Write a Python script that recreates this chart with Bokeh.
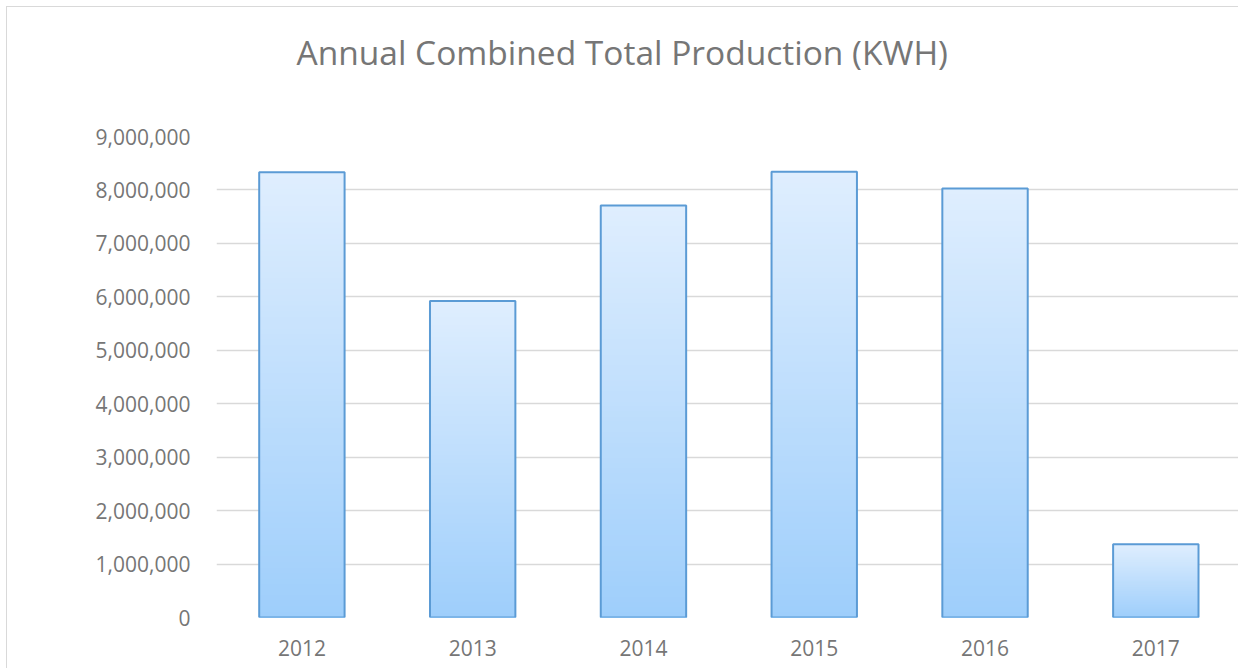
from bokeh.plotting import figure
from bokeh.models import Range1d, FixedTicker, NumeralTickFormatter, Title
from bokeh.embed import file_html
from bokeh.resources import INLINE

# ---- data ----
years = ["2012", "2013", "2014", "2015", "2016", "2017"]
production = [8330000, 5920000, 7710000, 8340000, 8025000, 1370000]
y_ticks = [0, 1000000, 2000000, 3000000, 4000000, 5000000, 6000000, 7000000, 8000000, 9000000]
title_text = "Annual Combined Total Production (KWH)"

# ---- styling ----
BAR_WIDTH = 0.5
TOP_RGB = (223, 238, 254)
BOT_RGB = (158, 206, 251)
N_SLICES = 80

xs = [i + 0.5 for i in range(len(years))]

p = figure(width=1232, height=662, output_backend="svg", toolbar_location=None,
           x_range=Range1d(0, 5.99), y_range=Range1d(0, 9000000),
           min_border_left=209, min_border_right=0, min_border_top=129, min_border_bottom=52)
p.styles = {"border-left": "1.5px solid #D9D9D9", "border-top": "1.5px solid #D9D9D9",
            "margin-left": "6px", "margin-top": "6px"}

p.title.text = title_text
p.title.align = "left"
p.title.offset = 80
p.title.standoff = 38
p.title.text_font = "Open Sans"
p.title.text_font_size = "33.5px"
p.title.text_font_style = "normal"
p.title.text_color = "#767676"

# empty spacer between the title and the plot area
spacer = Title(text=" ", text_font="Open Sans", text_font_size="20px", standoff=14)
p.add_layout(spacer, "above")

# gradient fill: overlapping slices per bar (drawn tallest first)
left, right, bottom, top, colors = [], [], [], [], []
for x, v in zip(xs, production):
    for k in range(N_SLICES - 1, -1, -1):
        t = (k + 0.5) / N_SLICES
        r = round(BOT_RGB[0] + (TOP_RGB[0] - BOT_RGB[0]) * t)
        g = round(BOT_RGB[1] + (TOP_RGB[1] - BOT_RGB[1]) * t)
        b = round(BOT_RGB[2] + (TOP_RGB[2] - BOT_RGB[2]) * t)
        left.append(x - BAR_WIDTH / 2)
        right.append(x + BAR_WIDTH / 2)
        bottom.append(0)
        top.append(v * (k + 1) / N_SLICES)
        colors.append("#%02x%02x%02x" % (r, g, b))

p.quad(left=left, right=right, bottom=bottom, top=top, fill_color=colors,
       line_color=None)
p.vbar(x=xs, top=production, width=BAR_WIDTH, fill_color=None,
       line_color="#5B9BD5", line_width=2)

p.xaxis.ticker = FixedTicker(ticks=xs)
p.xaxis.major_label_overrides = {x: y for x, y in zip(xs, years)}
p.yaxis.ticker = FixedTicker(ticks=y_ticks)
p.yaxis.formatter = NumeralTickFormatter(format="0,0")

for ax in (p.xaxis, p.yaxis):
    ax.axis_line_color = None
    ax.major_tick_line_color = None
    ax.minor_tick_line_color = None
    ax.major_label_text_font = "Open Sans"
    ax.major_label_text_font_size = "21px"
    ax.major_label_text_color = "#767676"
p.yaxis.major_label_standoff = 20
p.xaxis.major_label_standoff = 16

p.xgrid.grid_line_color = None
p.ygrid.grid_line_color = "#D9D9D9"
p.ygrid.grid_line_width = 1.5
p.outline_line_color = None

open("out.html", "w").write(file_html(p, INLINE))
